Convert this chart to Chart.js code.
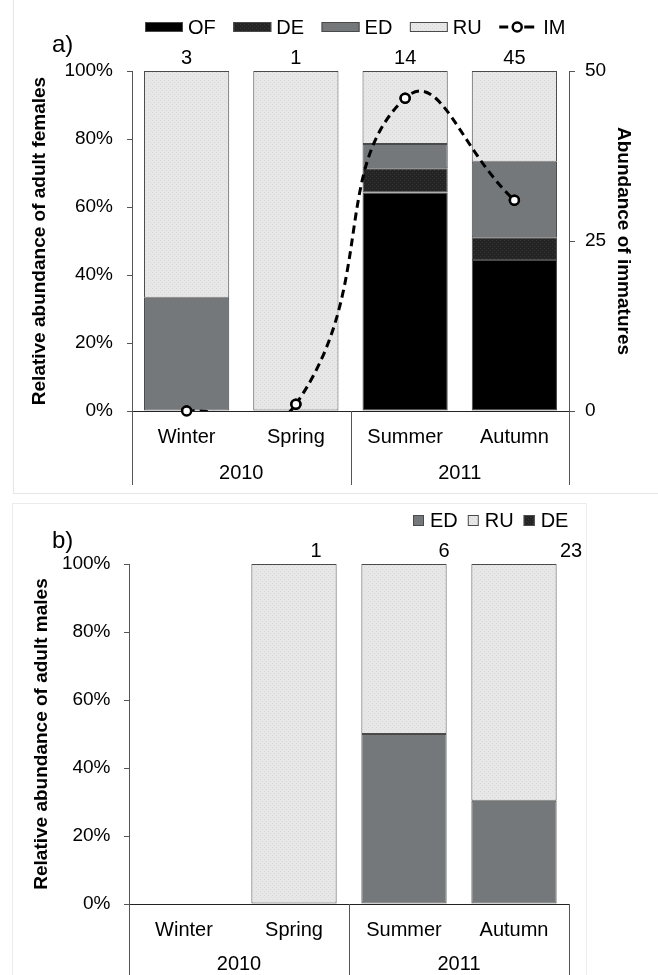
<!DOCTYPE html>
<html>
<head>
<meta charset="utf-8">
<script src="https://cdn.jsdelivr.net/npm/chart.js@4.4.0/dist/chart.umd.min.js"></script>
<style>
  body { margin: 0; background: #fff; width: 658px; height: 975px; overflow: hidden; position: relative; }
  canvas { position: absolute; left: 0; }
  #frameA { position: absolute; left: 13px; top: -2px; width: 660px; height: 496px; border: 1px solid #e6e6e6; box-sizing: border-box; }
  #frameB { position: absolute; left: 12px; top: 503px; width: 575px; height: 490px; border: 1px solid #ececec; box-sizing: border-box; }
</style>
</head>
<body>
<div id="frameA"></div>
<div id="frameB"></div>
<canvas id="chartA" width="658" height="493" style="top:0"></canvas>
<canvas id="chartB" width="658" height="472" style="top:503px"></canvas>

<script>
// categories
const SEASONS = ["Winter", "Spring", "Summer", "Autumn"];
const YEARS = ["2010", "2011"];
const SEASONS_PER_YEAR = [2, 2];

// tick labels
const PCT_TICKS = [0, 20, 40, 60, 80, 100];
const IM_TICKS = [0, 25, 50];

// a) adult females, % per season
const F_OF = [0, 0, 64.3, 44.4];
const F_DE = [0, 0, 7.1, 6.7];
const F_ED = [33.3, 0, 7.1, 22.2];
const F_RU = [66.7, 100, 21.5, 26.7];
const F_N = [3, 1, 14, 45];
// immatures (right axis)
const IM = [0, 1, 46, 31];

// b) adult males, % per season
const M_ED = [0, 0, 50, 30.4];
const M_RU = [0, 100, 50, 69.6];
const M_DE = [0, 0, 0, 0];
const M_N = [null, 1, 6, 23];

const FONT = "'Liberation Sans', Arial, Helvetica, sans-serif";
Chart.defaults.font.family = FONT;
Chart.defaults.color = "#000";

// textured fills like the excel patterns
function texture(base, dot) {
  const c = document.createElement("canvas");
  c.width = c.height = 4;
  const g = c.getContext("2d");
  g.fillStyle = base;
  g.fillRect(0, 0, 4, 4);
  g.fillStyle = dot;
  g.fillRect(0, 0, 1, 1);
  g.fillRect(2, 2, 1, 1);
  return g.createPattern(c, "repeat");
}
const FILL = {
  OF: "#000000",
  DE: texture("#242424", "#363636"),
  ED: "#75787a",
  RU: texture("#e7e7e7", "#dadada")
};
const EDGE = "#4a4a4a";

function barSet(label, data) {
  return { label, data, backgroundColor: FILL[label], borderColor: EDGE, borderWidth: 1, borderSkipped: false, order: 1 };
}

// === plugins ===
const yearGroups = {
  id: "yearGroups",
  afterDraw(chart, args, opts) {
    const { ctx, chartArea } = chart;
    const x = chart.scales.x;
    ctx.save();
    ctx.strokeStyle = "#555";
    ctx.lineWidth = 1;
    ctx.fillStyle = "#000";
    ctx.font = "20px " + FONT;
    ctx.textAlign = "center";
    ctx.textBaseline = "middle";
    let start = 0;
    const edges = [start];
    YEARS.forEach((yr, i) => {
      const end = start + SEASONS_PER_YEAR[i];
      const x0 = x.getPixelForValue(start - 0.5);
      const x1 = x.getPixelForValue(end - 0.5);
      ctx.fillText(yr, (x0 + x1) / 2, chartArea.bottom + opts.labelDy);
      edges.push(end);
      start = end;
    });
    edges.forEach(e => {
      const px = Math.round(x.getPixelForValue(e - 0.5)) + 0.5;
      ctx.beginPath();
      ctx.moveTo(px, chartArea.bottom);
      ctx.lineTo(px, chartArea.bottom + opts.lineLen);
      ctx.stroke();
    });
    ctx.restore();
  }
};

const counts = {
  id: "counts",
  afterDraw(chart, args, opts) {
    const { ctx, chartArea } = chart;
    const x = chart.scales.x;
    ctx.save();
    ctx.font = "20px " + FONT;
    ctx.fillStyle = "#000";
    ctx.textAlign = "center";
    ctx.textBaseline = "middle";
    opts.values.forEach((n, i) => {
      if (n === null) return;
      ctx.fillText(String(n), x.getPixelForValue(i) + opts.shift[i], chartArea.top - opts.dy);
    });
    ctx.restore();
  }
};

const panelLegend = {
  id: "panelLegend",
  afterDraw(chart, args, opts) {
    const ctx = chart.ctx;
    ctx.save();
    ctx.font = "20px " + FONT;
    ctx.textBaseline = "middle";
    let x = opts.x;
    const y = opts.y;
    opts.items.forEach(name => {
      const ds = chart.data.datasets.find(d => d.label === name);
      if (ds.type === "line") {
        ctx.strokeStyle = "#000";
        ctx.lineWidth = 3;
        ctx.beginPath();
        ctx.moveTo(x, y); ctx.lineTo(x + 9, y);
        ctx.moveTo(x + 25, y); ctx.lineTo(x + 35, y);
        ctx.stroke();
        ctx.beginPath();
        ctx.arc(x + 18, y, 4.5, 0, Math.PI * 2);
        ctx.fillStyle = "#fff";
        ctx.fill();
        ctx.lineWidth = 2.5;
        ctx.stroke();
        x += 35 + 9;
      } else {
        ctx.fillStyle = ds.backgroundColor;
        ctx.fillRect(x, y - opts.boxH / 2, opts.boxW, opts.boxH);
        ctx.strokeStyle = EDGE;
        ctx.lineWidth = 1;
        ctx.strokeRect(x + 0.5, y - opts.boxH / 2 + 0.5, opts.boxW - 1, opts.boxH - 1);
        x += opts.boxW + opts.textGap;
      }
      ctx.fillStyle = "#000";
      ctx.fillText(name, x, y + 1);
      x += ctx.measureText(name).width + opts.itemGap;
    });
    ctx.restore();
  }
};

const panelTag = {
  id: "panelTag",
  afterDraw(chart, args, opts) {
    const ctx = chart.ctx;
    ctx.save();
    ctx.font = "24px " + FONT;
    ctx.fillStyle = "#000";
    ctx.textBaseline = "middle";
    ctx.fillText(opts.text, opts.x, opts.y);
    ctx.restore();
  }
};

// markers drawn again so the one on the baseline is not cut by the clip
const fullMarkers = {
  id: "fullMarkers",
  afterDatasetsDraw(chart) {
    const big = { left: -1e4, right: 1e4, top: -1e4, bottom: 1e4 };
    chart.data.datasets.forEach((ds, i) => {
      if (ds.type !== "line") return;
      chart.getDatasetMeta(i).data.forEach(p => p.draw(chart.ctx, big));
    });
  }
};

function pctAxis(title, width, titlePad, labelPad) {
  return {
    stacked: true,
    position: "left",
    min: 0,
    max: 100,
    afterBuildTicks: s => { s.ticks = PCT_TICKS.map(v => ({ value: v })); },
    ticks: { callback: v => v + "%", padding: labelPad, font: { size: 19 } },
    grid: { drawOnChartArea: false, tickLength: 5, color: "#555" },
    border: { color: "#555" },
    title: { display: true, text: title, font: { size: 19, weight: "bold" }, padding: { top: titlePad, bottom: 0 } },
    afterFit: s => { s.width = width; }
  };
}

function seasonAxis(height) {
  return {
    stacked: true,
    offset: true,
    grid: { display: false, drawTicks: false },
    border: { color: "#222" },
    ticks: { font: { size: 20 }, padding: 14, maxRotation: 0, autoSkip: false },
    afterFit: s => { s.height = height; }
  };
}

// === a) females ===
new Chart(document.getElementById("chartA"), {
  type: "bar",
  data: {
    labels: SEASONS,
    datasets: [
      barSet("OF", F_OF),
      barSet("DE", F_DE),
      barSet("ED", F_ED),
      barSet("RU", F_RU),
      {
        type: "line", label: "IM", data: IM, yAxisID: "y2", order: 0,
        borderColor: "#000", borderWidth: 3, borderDash: [8, 5],
        tension: 0.5, capBezierPoints: false, fill: false,
        pointRadius: 4.5, pointBorderWidth: 2.5,
        pointBackgroundColor: "#fff", pointBorderColor: "#000"
      }
    ]
  },
  options: {
    responsive: false,
    animation: false,
    layout: { padding: { top: 71, left: 0, right: 0, bottom: 0 } },
    datasets: { bar: { categoryPercentage: 1, barPercentage: 0.78 } },
    elements: { line: { capBezierPoints: false } },
    scales: {
      x: seasonAxis(82),
      y: pctAxis("Relative abundance of adult females", 132, 28.6, 14),
      y2: {
        position: "right",
        min: 0,
        max: 50,
        afterBuildTicks: s => { s.ticks = IM_TICKS.map(v => ({ value: v })); },
        ticks: { padding: 10, font: { size: 19 } },
        grid: { drawOnChartArea: false, tickLength: 6, color: "#555" },
        border: { color: "#555" },
        title: { display: true, text: "Abundance of immatures", font: { size: 19, weight: "bold" }, padding: { top: 23.6, bottom: 0 } },
        afterFit: s => { s.width = 89; }
      }
    },
    plugins: {
      legend: { display: false },
      tooltip: { enabled: false },
      yearGroups: { labelDy: 62, lineLen: 74 },
      counts: { values: F_N, shift: [0, 0, 0, 0], dy: 13 },
      panelLegend: { items: ["OF", "DE", "ED", "RU", "IM"], x: 145, y: 27, boxW: 38, boxH: 10, textGap: 5, itemGap: 17.5 },
      panelTag: { text: "a)", x: 52, y: 45 }
    }
  },
  plugins: [yearGroups, counts, panelLegend, panelTag, fullMarkers]
});

// === b) males ===
new Chart(document.getElementById("chartB"), {
  type: "bar",
  data: {
    labels: SEASONS,
    datasets: [
      barSet("ED", M_ED),
      barSet("RU", M_RU),
      barSet("DE", M_DE)
    ]
  },
  options: {
    responsive: false,
    animation: false,
    layout: { padding: { top: 61, left: 0, right: 89, bottom: 0 } },
    datasets: { bar: { categoryPercentage: 1, barPercentage: 0.775 } },
    scales: {
      x: seasonAxis(71),
      y: pctAxis("Relative abundance of adult males", 129, 30.6, 13.5)
    },
    plugins: {
      legend: { display: false },
      tooltip: { enabled: false },
      yearGroups: { labelDy: 60, lineLen: 80 },
      counts: { values: M_N, shift: [0, 22, 40, 57], dy: 13 },
      panelLegend: { items: ["ED", "RU", "DE"], x: 413, y: 17.5, boxW: 11, boxH: 11, textGap: 6, itemGap: 10 },
      panelTag: { text: "b)", x: 52, y: 38 }
    }
  },
  plugins: [yearGroups, counts, panelLegend, panelTag]
});
</script>
</body>
</html>
